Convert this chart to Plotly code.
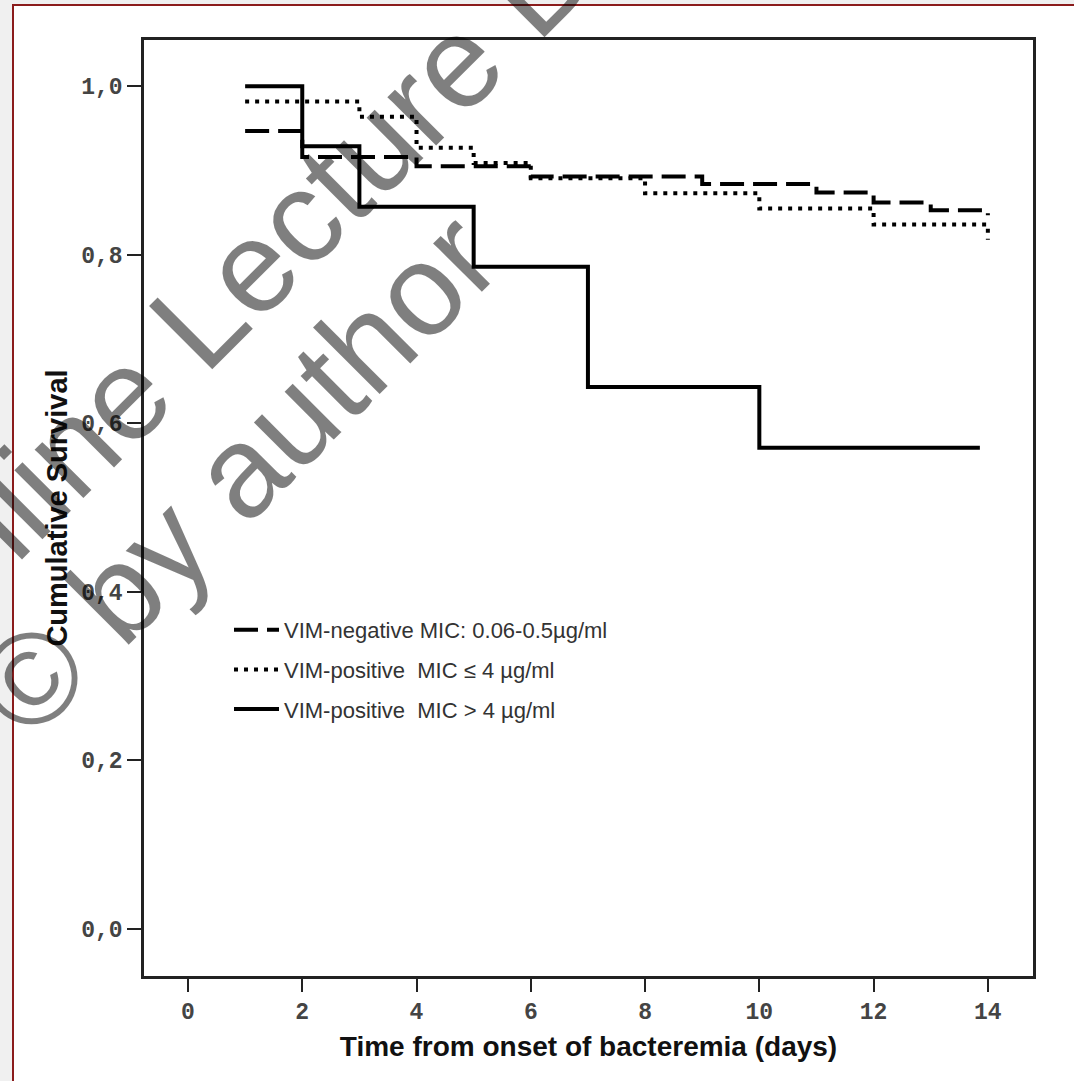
import plotly.graph_objects as go

# ---------------- data ----------------
series_names = [
    "VIM-negative MIC: 0.06-0.5µg/ml",
    "VIM-positive  MIC ≤ 4 µg/ml",
    "VIM-positive  MIC > 4 µg/ml",
]
neg_days = [1, 2, 4, 6, 9, 11, 12, 13, 14]
neg_surv = [0.947, 0.916, 0.905, 0.893, 0.884, 0.874, 0.862, 0.853, 0.847]

pos_low_days = [1, 3, 4, 5, 6, 8, 10, 12, 14]
pos_low_surv = [0.982, 0.964, 0.927, 0.909, 0.891, 0.873, 0.855, 0.836, 0.818]

pos_high_days = [1, 2, 3, 5, 7, 10, 13.86]
pos_high_surv = [1.0, 0.929, 0.857, 0.786, 0.643, 0.571, 0.571]

x_ticks = [0, 2, 4, 6, 8, 10, 12, 14]
y_ticks = [0.0, 0.2, 0.4, 0.6, 0.8, 1.0]

x_title = "Time from onset of bacteremia (days)"
y_title = "Cumulative Survival"
watermark_1 = "Online Lecture B"
watermark_2 = "© by author"

# ---------------- figure ----------------
W, H = 1074, 1081
ML, MR, MT, MB = 144, 41, 40, 105
PW, PH = W - ML - MR, H - MT - MB

def px_to_paper(px, py):
    return (px - ML) / PW, (H - MB - py) / PH

fig = go.Figure()

styles = [
    dict(dash="24px,9px", width=4),
    dict(dash="4px,6px", width=4),
    dict(dash="solid", width=4),
]
data = [(neg_days, neg_surv), (pos_low_days, pos_low_surv), (pos_high_days, pos_high_surv)]

for i, ((xs, ys), name, st) in enumerate(zip(data, series_names, styles)):
    fig.add_trace(go.Scatter(
        x=xs, y=ys, mode="lines", name=name,
        line=dict(color="black", width=st["width"], dash=st["dash"], shape="hv"),
        legendgroup=f"g{i}",
        hoverinfo="x+y",
    ))

# outer dark-red frame of the picture
x0, y0 = px_to_paper(13, 5)
x1, y1 = px_to_paper(1090, 1095)
fig.add_shape(type="rect", xref="paper", yref="paper", x0=x0, y0=y1, x1=x1, y1=y0,
              line=dict(color="#8b1c1c", width=2), fillcolor="white", layer="below")

# watermark (cut by the picture edges, as in the original)
wm_font = dict(family="Liberation Sans, Arial, sans-serif", size=130, color="rgba(0,0,0,0.5)")
wx, wy = px_to_paper(224, 294)
fig.add_annotation(xref="paper", yref="paper", x=wx, y=wy, text=watermark_1,
                   showarrow=False, textangle=-45, xanchor="center", yanchor="middle",
                   font=wm_font)
wx2, wy2 = px_to_paper(236, 474)
fig.add_annotation(xref="paper", yref="paper", x=wx2, y=wy2, text=watermark_2,
                   showarrow=False, textangle=-45, xanchor="center", yanchor="middle",
                   font=wm_font)

lx, ly = px_to_paper(229, 609)
fig.update_layout(
    width=W, height=H,
    margin=dict(l=ML, r=MR, t=MT, b=MB, pad=0),
    paper_bgcolor="#f0f0f0",
    plot_bgcolor="white",
    separators=", ",
    showlegend=True,
    legend=dict(
        x=lx, y=ly, xanchor="left", yanchor="top",
        bgcolor="rgba(0,0,0,0)", borderwidth=0,
        font=dict(family="Liberation Sans, Arial, sans-serif", size=22, color="#333"),
        tracegroupgap=8, itemwidth=45,
    ),
    xaxis=dict(
        range=[-0.77, 14.79], tickvals=x_ticks, ticks="outside", ticklen=13, tickwidth=1.5,
        tickcolor="#222", showgrid=False, zeroline=False,
        showline=True, mirror=True, linecolor="#222", linewidth=2.5,
        tickfont=dict(family="Liberation Mono, Courier New, monospace", size=23, color="#444",
                      weight="bold"),
        title=dict(text=x_title, standoff=12,
                   font=dict(family="Liberation Sans, Arial, sans-serif", size=28, color="#111",
                             weight="bold")),
    ),
    yaxis=dict(
        range=[-0.056, 1.055], tickvals=y_ticks, tickformat=".1f", ticks="outside", ticklen=14,
        tickwidth=1.5, tickcolor="#222", showgrid=False, zeroline=False,
        showline=True, mirror=True, linecolor="#222", linewidth=2.5,
        tickfont=dict(family="Liberation Mono, Courier New, monospace", size=23, color="#444",
                      weight="bold"),
        title=dict(text=y_title, standoff=6,
                   font=dict(family="Liberation Sans, Arial, sans-serif", size=29, color="#111",
                             weight="bold")),
    ),
)

fig.write_html("out.html", config={"displayModeBar": False},
               post_script="document.body.style.margin='0';")
